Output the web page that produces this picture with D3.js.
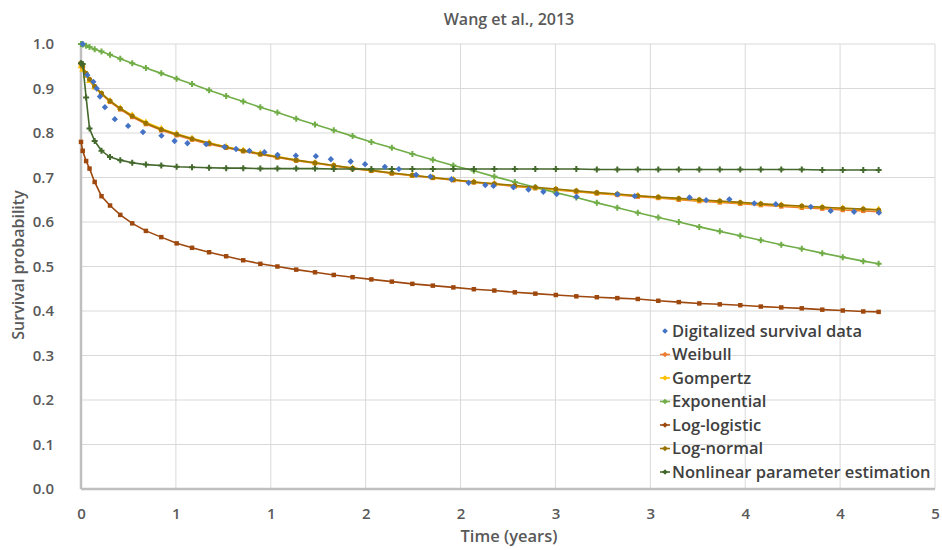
<!DOCTYPE html>
<html>
<head>
<meta charset="utf-8">
<script src="https://cdn.jsdelivr.net/npm/d3@7"></script>
<style>
  body { margin: 0; background: #fff; }
  #chart text { font-family: "Open Sans", "Noto Sans", sans-serif; fill: #595959; }
  .grid line { stroke: #d9d9d9; stroke-width: 1; }
  .axis-line { stroke: #bfbfbf; stroke-width: 2.5; }
</style>
</head>
<body>
<div id="chart"></div>
<script>
// time points (years) used by the fitted curves
var years = [
  0, 0.01, 0.03, 0.05, 0.08, 0.12, 0.17, 0.23, 0.3, 0.38,
  0.47, 0.56, 0.65, 0.75, 0.85, 0.95, 1.05, 1.15, 1.26, 1.37,
  1.48, 1.59, 1.7, 1.82, 1.94, 2.06, 2.18, 2.3, 2.42, 2.54,
  2.66, 2.78, 2.9, 3.02, 3.14, 3.26, 3.38, 3.5, 3.62, 3.74,
  3.86, 3.98, 4.1, 4.22, 4.34, 4.46, 4.58, 4.67
];
var weibull = [
  0.955, 0.945, 0.930, 0.918, 0.903, 0.887, 0.870, 0.853, 0.836, 0.820,
  0.806, 0.795, 0.785, 0.775, 0.767, 0.759, 0.752, 0.745, 0.738, 0.732,
  0.726, 0.720, 0.715, 0.709, 0.704, 0.699, 0.694, 0.689, 0.685, 0.680,
  0.676, 0.672, 0.668, 0.664, 0.661, 0.657, 0.654, 0.650, 0.647, 0.644,
  0.641, 0.638, 0.635, 0.632, 0.630, 0.627, 0.625, 0.623
];
var gompertz = [
  0.950, 0.942, 0.928, 0.917, 0.903, 0.888, 0.872, 0.856, 0.840, 0.824,
  0.810, 0.798, 0.788, 0.778, 0.769, 0.761, 0.754, 0.747, 0.739, 0.733,
  0.727, 0.721, 0.716, 0.710, 0.705, 0.700, 0.695, 0.690, 0.686, 0.681,
  0.677, 0.673, 0.669, 0.665, 0.662, 0.659, 0.655, 0.652, 0.649, 0.646,
  0.643, 0.640, 0.638, 0.635, 0.633, 0.631, 0.629, 0.628
];
var exponential = [
  1.000, 0.999, 0.996, 0.993, 0.988, 0.983, 0.976, 0.967, 0.957, 0.946,
  0.934, 0.922, 0.910, 0.896, 0.883, 0.871, 0.858, 0.846, 0.832, 0.819,
  0.806, 0.793, 0.780, 0.767, 0.753, 0.740, 0.727, 0.715, 0.702, 0.690,
  0.678, 0.666, 0.655, 0.643, 0.632, 0.621, 0.610, 0.600, 0.589, 0.579,
  0.569, 0.559, 0.549, 0.540, 0.530, 0.521, 0.512, 0.506
];
var logLogistic = [
  0.780, 0.760, 0.737, 0.720, 0.690, 0.658, 0.637, 0.616, 0.597, 0.580,
  0.566, 0.552, 0.542, 0.532, 0.523, 0.514, 0.506, 0.500, 0.493, 0.487,
  0.481, 0.476, 0.471, 0.466, 0.461, 0.457, 0.453, 0.449, 0.446, 0.442,
  0.439, 0.436, 0.433, 0.431, 0.429, 0.427, 0.423, 0.420, 0.417, 0.415,
  0.413, 0.410, 0.408, 0.406, 0.403, 0.401, 0.399, 0.398
];
var logNormal = [
  0.957, 0.950, 0.934, 0.921, 0.905, 0.889, 0.872, 0.855, 0.838, 0.822,
  0.808, 0.797, 0.787, 0.777, 0.768, 0.760, 0.753, 0.746, 0.739, 0.733,
  0.727, 0.721, 0.716, 0.710, 0.705, 0.700, 0.695, 0.690, 0.686, 0.682,
  0.678, 0.674, 0.670, 0.666, 0.663, 0.659, 0.656, 0.653, 0.650, 0.647,
  0.644, 0.641, 0.638, 0.636, 0.633, 0.631, 0.629, 0.627
];
var nonlinear = [
  0.957, 0.955, 0.880, 0.810, 0.782, 0.760, 0.746, 0.739, 0.733, 0.729,
  0.727, 0.724, 0.723, 0.722, 0.721, 0.721, 0.720, 0.720, 0.720, 0.720,
  0.719, 0.719, 0.719, 0.719, 0.719, 0.719, 0.719, 0.719, 0.719, 0.719,
  0.719, 0.719, 0.719, 0.718, 0.718, 0.718, 0.718, 0.718, 0.718, 0.718,
  0.718, 0.718, 0.718, 0.718, 0.717, 0.717, 0.717, 0.717
];

// digitalized Kaplan-Meier points
var dataYears = [
  0.01, 0.037, 0.072, 0.092, 0.111, 0.14, 0.198, 0.276, 0.363, 0.471,
  0.548, 0.623, 0.733, 0.84, 0.908, 0.986, 1.074, 1.151, 1.258, 1.375,
  1.463, 1.579, 1.663, 1.779, 1.861, 1.962, 2.046, 2.169, 2.27, 2.367,
  2.415, 2.532, 2.62, 2.707, 2.785, 2.901, 3.141, 3.242, 3.563, 3.66,
  3.796, 3.942, 4.068, 4.273, 4.389, 4.526, 4.672
];
var dataSurvival = [
  1.0, 0.930, 0.915, 0.900, 0.882, 0.858, 0.831, 0.816, 0.802, 0.794,
  0.782, 0.777, 0.775, 0.769, 0.764, 0.760, 0.757, 0.751, 0.749, 0.748,
  0.741, 0.736, 0.730, 0.724, 0.719, 0.706, 0.702, 0.696, 0.688, 0.683,
  0.681, 0.678, 0.673, 0.668, 0.663, 0.657, 0.662, 0.658, 0.655, 0.649,
  0.651, 0.642, 0.640, 0.634, 0.625, 0.623, 0.621
];

// x axis ticks every 5/9 year, labels rounded to whole years
var xTicks = [0, 5 / 9, 10 / 9, 15 / 9, 20 / 9, 25 / 9, 30 / 9, 35 / 9, 40 / 9, 5];
var yTicks = [0, 0.1, 0.2, 0.3, 0.4, 0.5, 0.6, 0.7, 0.8, 0.9, 1.0];

var seriesNames = ["Weibull", "Gompertz", "Exponential", "Log-logistic", "Log-normal", "Nonlinear parameter estimation"];
var seriesValues = [weibull, gompertz, exponential, logLogistic, logNormal, nonlinear];
var seriesColors = ["#ed7d31", "#ffc000", "#70ad47", "#9e480e", "#997300", "#43682b"];

var margin = { top: 44, right: 4, bottom: 61, left: 81 };
var totalW = 942, totalH = 550;
var width = totalW - margin.left - margin.right;
var height = totalH - margin.top - margin.bottom;

var svg = d3.select("#chart").append("svg")
    .attr("width", totalW)
    .attr("height", totalH);
var g = svg.append("g")
    .attr("transform", "translate(" + margin.left + "," + margin.top + ")");

var x = d3.scaleLinear().domain([0, 5]).range([0, width - 3]);
var y = d3.scaleLinear().domain([0, 1]).range([height, 0]);

// grid
g.append("g").attr("class", "grid")
    .selectAll("line.h").data(yTicks).enter().append("line")
    .attr("x1", 0).attr("x2", x(5))
    .attr("y1", function (d) { return y(d); })
    .attr("y2", function (d) { return y(d); });
g.append("g").attr("class", "grid")
    .selectAll("line.v").data(xTicks).enter().append("line")
    .attr("x1", function (d) { return x(d); })
    .attr("x2", function (d) { return x(d); })
    .attr("y1", 0).attr("y2", height);

// axes
var xAxis = d3.axisBottom(x).tickValues(xTicks).tickSize(0).tickPadding(19)
    .tickFormat(function (d) { return d3.format(".0f")(d); });
var yAxis = d3.axisLeft(y).tickValues(yTicks).tickSize(0).tickPadding(27)
    .tickFormat(d3.format(".1f"));
g.append("g").attr("class", "axis axis--x")
    .attr("transform", "translate(0," + height + ")")
    .call(xAxis)
    .call(function (s) { s.select(".domain").remove(); });
g.append("g").attr("class", "axis axis--y")
    .call(yAxis)
    .call(function (s) { s.select(".domain").remove(); });
g.selectAll(".axis text")
    .style("font-size", "15px")
    .style("font-weight", "600");

g.append("line").attr("class", "axis-line")
    .attr("x1", 0).attr("x2", x(5)).attr("y1", height).attr("y2", height);
g.append("line").attr("class", "axis-line")
    .attr("x1", 0).attr("x2", 0).attr("y1", 0).attr("y2", height);

// fitted curves
var line = d3.line()
    .x(function (d) { return x(d[0]); })
    .y(function (d) { return y(d[1]); });
var markerShapes = [d3.symbolSquare, d3.symbolTriangle, d3.symbolCross, d3.symbolSquare, d3.symbolCircle, d3.symbolCross];

seriesValues.forEach(function (vals, i) {
    var pts = years.map(function (t, j) { return [t, vals[j]]; });
    var s = g.append("g").attr("class", "series");
    s.append("path")
        .datum(pts)
        .attr("fill", "none")
        .attr("stroke", seriesColors[i])
        .attr("stroke-width", 1.6)
        .attr("d", line);
    s.selectAll("path.mark").data(pts).enter().append("path")
        .attr("class", "mark")
        .attr("transform", function (d) { return "translate(" + x(d[0]) + "," + y(d[1]) + ")"; })
        .attr("d", d3.symbol().type(markerShapes[i]).size(20))
        .attr("fill", seriesColors[i]);
});

// digitalized data: small diamonds, no line
g.append("g").selectAll("path").data(dataYears).enter().append("path")
    .attr("transform", function (d, i) { return "translate(" + x(d) + "," + y(dataSurvival[i]) + ") rotate(45)"; })
    .attr("d", d3.symbol().type(d3.symbolSquare).size(20))
    .attr("fill", "#4472c4");

// title and axis titles
svg.append("text")
    .attr("x", 509).attr("y", 25)
    .attr("text-anchor", "middle")
    .style("font-size", "16px")
    .style("font-weight", "600")
    .text("Wang et al., 2013");
svg.append("text")
    .attr("x", 509).attr("y", 542)
    .attr("text-anchor", "middle")
    .style("font-size", "16.5px")
    .style("font-weight", "600")
    .text("Time (years)");
svg.append("text")
    .attr("transform", "translate(24," + 265 + ") rotate(-90)")
    .attr("text-anchor", "middle")
    .style("font-size", "16px")
    .style("font-weight", "600")
    .text("Survival probability");

// legend
var legendNames = ["Digitalized survival data"].concat(seriesNames);
var legendColors = ["#4472c4"].concat(seriesColors);
var legend = svg.append("g").attr("transform", "translate(665,331)");
var row = legend.selectAll("g").data(legendNames).enter().append("g")
    .attr("transform", function (d, i) { return "translate(0," + (i * 23.5) + ")"; });
row.filter(function (d, i) { return i > 0; }).append("line")
    .attr("x1", -5).attr("x2", 5).attr("y1", 0).attr("y2", 0)
    .attr("stroke", function (d, i) { return legendColors[i + 1]; })
    .attr("stroke-width", 1.6);
row.append("path")
    .attr("transform", "rotate(45)")
    .attr("d", d3.symbol().type(d3.symbolSquare).size(16))
    .attr("fill", function (d, i) { return legendColors[i]; });
row.append("text")
    .attr("x", 7).attr("dy", "0.35em")
    .style("font-size", "16.5px")
    .style("font-weight", "600")
    .style("fill", "#404040")
    .text(function (d) { return d; });
</script>
</body>
</html>
